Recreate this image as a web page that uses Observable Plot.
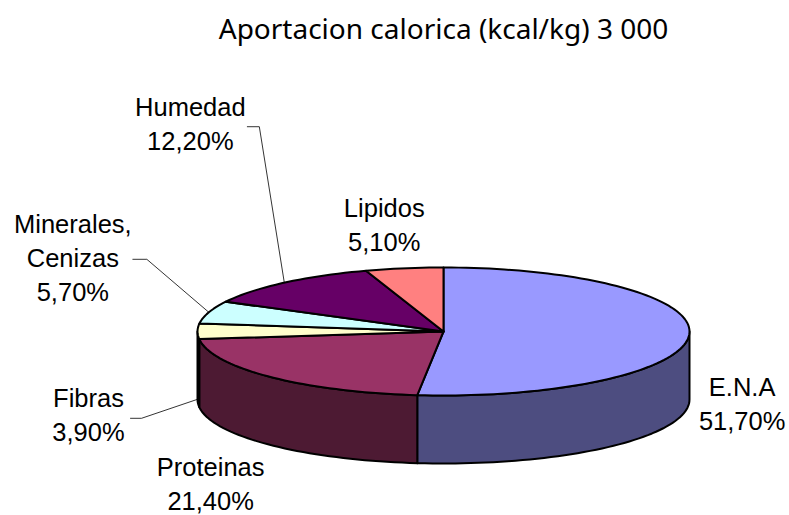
<!DOCTYPE html>
<html><head><meta charset="utf-8">
<style>html,body{margin:0;padding:0;background:#fff}svg{display:block}</style>
<script src="https://cdn.jsdelivr.net/npm/d3@7"></script>
<script src="https://cdn.jsdelivr.net/npm/@observablehq/plot@0.6"></script>
</head><body><div id="chart"></div>
<script>
const categories = ["E.N.A","Proteinas","Fibras","Minerales,\nCenizas","Humedad","Lipidos"];
const values = [51.7,21.4,3.9,5.7,12.2,5.1];
const valueLabels = ["51,70%","21,40%","3,90%","5,70%","12,20%","5,10%"];
const topColors = ["#9999FF","#993366","#FFFFCC","#CCFFFF","#660066","#FF8080"];
const sideColors = ["#4D4D80","#4D1A33","#808066","#668080","#330033","#804040"];
const chartTitle = "Aportacion calorica (kcal/kg) 3 000";

// layout, in pixels relative to each slice's rim point
const labelOffsets = [[53,67],[-60,105],[-109,82],[-136,-56],[-94,-161],[-20,-45]];
const leaders = {2:{depth:true,path:[[-56,19],[-67,19]]},3:{depth:false,path:[[-62,-53],[-76,-53]]},4:{depth:false,path:[[-25,-156],[-37,-156]]}};
const RX=246, RY=64, DEPTH=68/64;
const px=d=>d/RX, py=d=>-d/RY;

const rad=p=>p/100*2*Math.PI;
const rim=(p,drop=0)=>({x:Math.sin(rad(p)),y:Math.cos(rad(p))-drop});
const steps=(a,b)=>{const n=Math.max(2,Math.ceil((b-a)*2));return d3.range(n+1).map(i=>a+(b-a)*i/n)};

let c=0;
const slices=values.map((v,i)=>{const s={i,start:c,end:c+v,mid:c+v/2};c+=v;return s});

const walls=slices.flatMap(s=>{
  const a=Math.max(s.start,25),b=Math.min(s.end,75);
  if(b<=a) return [];
  const arc=steps(a,b);
  const pts=[...arc.map(p=>rim(p)),...arc.slice().reverse().map(p=>rim(p,DEPTH))];
  pts.push(pts[0]);
  return [Plot.line(pts,{x:"x",y:"y",fill:sideColors[s.i],stroke:"#000",strokeWidth:2,strokeLinejoin:"round"})];
});
const tops=slices.map(s=>{
  const pts=[{x:0,y:0},...steps(s.start,s.end).map(p=>rim(p)),{x:0,y:0}];
  return Plot.line(pts,{x:"x",y:"y",fill:topColors[s.i],stroke:"#000",strokeWidth:2,strokeLinejoin:"round"});
});
const leaderMarks=Object.entries(leaders).map(([i,l])=>{
  const r=rim(slices[i].mid,l.depth?DEPTH:0);
  const pts=[r,...l.path.map(([dx,dy])=>({x:r.x+px(dx),y:r.y+py(dy)}))];
  return Plot.line(pts,{x:"x",y:"y",stroke:"#000",strokeWidth:0.8});
});
const labels=slices.map(s=>{
  const r=rim(s.mid),[dx,dy]=labelOffsets[s.i];
  return {x:r.x+px(dx),y:r.y+py(dy),text:categories[s.i]+"\n"+valueLabels[s.i]};
});

const plot=Plot.plot({
  width:789,height:515,margin:0,
  x:{domain:[-1,1],range:[197,689],axis:null},
  y:{domain:[-1,1],range:[395,267],axis:null},
  marks:[
    ...walls,...tops,...leaderMarks,
    Plot.text(labels,{x:"x",y:"y",text:"text",fontSize:25.5,lineHeight:1.335,fontFamily:"Liberation Sans, Arial, sans-serif",fill:"#000"}),
    Plot.text([chartTitle],{frameAnchor:"top",dx:48.5,dy:30,lineAnchor:"middle",fontSize:28,fontFamily:"Noto Sans, sans-serif",fill:"#000"})
  ]
});
plot.style.background="#fff";
document.getElementById("chart").append(plot);
</script></body></html>
